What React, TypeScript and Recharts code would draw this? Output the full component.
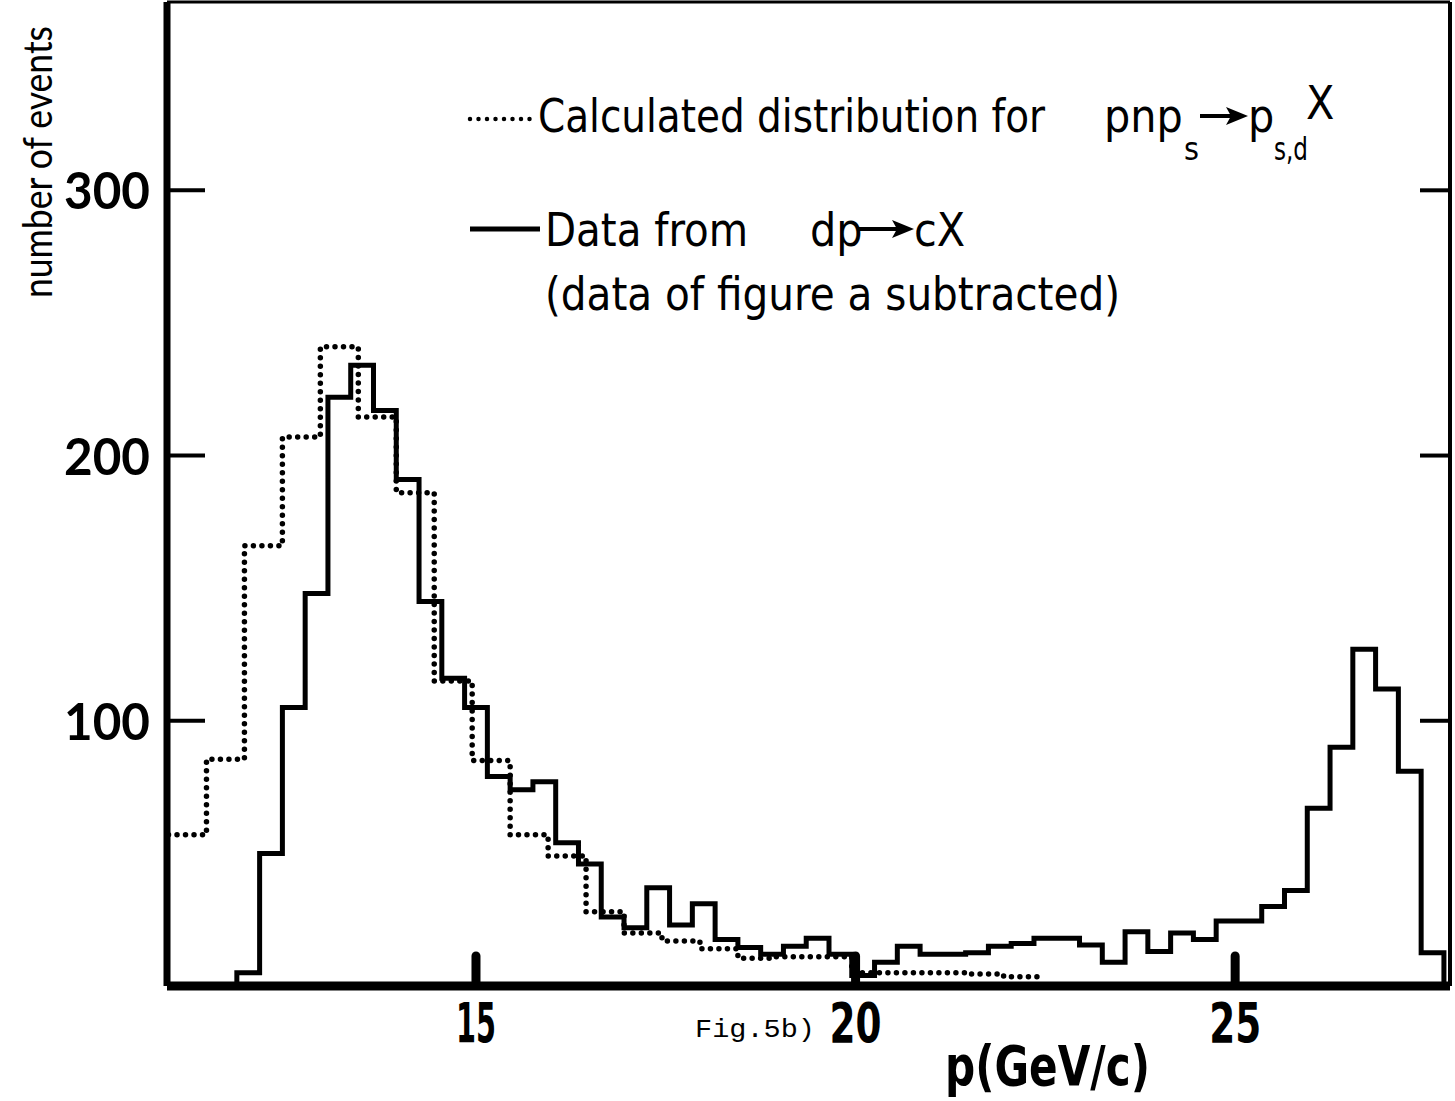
import React from 'react';
import { ComposedChart, Line, XAxis, YAxis } from 'recharts';

// Data from dp -> cX (figure a subtracted), 0.3 GeV/c bins, lower edges
const dataBinLow = [
  11.85, 12.15, 12.45, 12.75, 13.05, 13.35, 13.65, 13.95, 14.25, 14.55,
  14.85, 15.15, 15.45, 15.75, 16.05, 16.35, 16.65, 16.95, 17.25, 17.55,
  17.85, 18.15, 18.45, 18.75, 19.05, 19.35, 19.65, 19.95, 20.25, 20.55,
  20.85, 21.15, 21.45, 21.75, 22.05, 22.35, 22.65, 22.95, 23.25, 23.55,
  23.85, 24.15, 24.45, 24.75, 25.05, 25.35, 25.65, 25.95, 26.25, 26.55,
  26.85, 27.15, 27.45,
];
const dataBinEnd = 27.75;
const dataCounts = [
  5, 50, 105, 148, 222, 234, 217, 191, 145, 116,
  105, 79, 74, 77, 54, 46, 26, 22, 37, 23,
  31, 17.5, 14.5, 12, 15, 18, 12, 4, 9, 15,
  12, 12, 12.5, 15, 16, 18, 18, 15.5, 9, 20.5,
  13, 20, 17.5, 24.5, 24.5, 30, 36, 67, 90, 127,
  112, 81, 12.5,
];

// Calculated distribution for pnp_s -> p_s,d X, 0.5 GeV/c bins
const calcBinLow = [
  10.95, 11.45, 11.95, 12.45, 12.95, 13.45, 13.95, 14.45, 14.95, 15.45,
  15.95, 16.45, 16.95, 17.45, 17.95, 18.45, 18.95, 19.45, 19.95, 20.45,
  20.95, 21.45, 21.95,
];
const calcBinEnd = 22.45;
const calcCounts = [
  57, 85.5, 166, 207, 241, 214.5, 186, 115, 85, 57,
  49, 28, 20, 17, 14, 10.5, 11, 11, 5, 5,
  5, 4.5, 3.5,
];

const xTicks = [15, 20, 25];
const yTicks = [100, 200, 300];

const solidPoints = [
  { p: dataBinLow[0], n: 0 },
  ...dataBinLow.map((p, i) => ({ p, n: dataCounts[i] })),
  { p: dataBinEnd, n: 0 },
];
const dottedPoints = [
  ...calcBinLow.map((p, i) => ({ p, n: calcCounts[i] })),
  { p: calcBinEnd, n: calcCounts[calcCounts.length - 1] },
];

const narrow = '"Liberation Sans Narrow", "DejaVu Sans Condensed", "Roboto Condensed", sans-serif';

function LeftTick(props: any) {
  const { x, y, payload } = props;
  return (
    <g>
      <line x1={x} x2={x + 38} y1={y} y2={y} stroke="#000" strokeWidth={4} />
      <text x={x - 17} y={y + 19} textAnchor="end" fontFamily="Lato, sans-serif" fontWeight={700}
        fontSize={52} textLength={86} lengthAdjust="spacingAndGlyphs" fill="#000">
        {payload.value}
      </text>
    </g>
  );
}

function RightTick(props: any) {
  const { x, y } = props;
  return <line x1={x - 30} x2={x + 1} y1={y} y2={y} stroke="#000" strokeWidth={4} />;
}

function BottomTick(props: any) {
  const { x, y, payload } = props;
  // the "1" is narrow in the original lettering
  const w = String(payload.value).startsWith('1') ? 40 : 52;
  return (
    <g>
      <line x1={x} x2={x} y1={y - 4} y2={y - 30} stroke="#000" strokeWidth={9} strokeLinecap="round" />
      <text x={x} y={1042} textAnchor="middle" fontFamily={narrow} fontWeight={700} fontSize={55}
        textLength={w} lengthAdjust="spacingAndGlyphs" fill="#000">
        {payload.value}
      </text>
    </g>
  );
}

function Arrow({ x1, x2, y }: { x1: number; x2: number; y: number }) {
  return (
    <g>
      <line x1={x1} x2={x2 - 16} y1={y} y2={y} stroke="#000" strokeWidth={4} />
      <path d={`M${x2},${y} L${x2 - 22},${y - 9} L${x2 - 17},${y} L${x2 - 22},${y + 9} Z`} fill="#000" />
    </g>
  );
}

export default function App() {
  return (
    <div style={{ position: 'absolute', left: 0, top: 0, width: 1455, height: 1101, background: '#fff' }}>
      <ComposedChart width={1455} height={1101} margin={{ top: 1, right: 4, bottom: 0, left: 0 }}>
        <XAxis xAxisId="bottom" dataKey="p" type="number" domain={[10.93, 27.83]} allowDataOverflow
          ticks={xTicks} interval={0} tickSize={0} tickMargin={0} tickLine={false} height={115}
          axisLine={{ stroke: '#000', strokeWidth: 9 }} tick={<BottomTick />} />
        <XAxis xAxisId="top" orientation="top" dataKey="p" type="number" domain={[10.93, 27.83]}
          height={1} tick={false} tickLine={false} axisLine={{ stroke: '#000', strokeWidth: 3 }} />
        <YAxis yAxisId="left" type="number" domain={[0, 371]} allowDataOverflow ticks={yTicks} interval={0}
          width={167} tickSize={0} tickMargin={0} tickLine={false}
          axisLine={{ stroke: '#000', strokeWidth: 7 }} tick={<LeftTick />} />
        <YAxis yAxisId="right" orientation="right" type="number" domain={[0, 371]} allowDataOverflow
          ticks={yTicks} interval={0} width={1} tickSize={0} tickMargin={0} tickLine={false}
          axisLine={{ stroke: '#000', strokeWidth: 4 }} tick={<RightTick />} />
        <Line xAxisId="bottom" yAxisId="left" data={dottedPoints} dataKey="n" type="stepAfter"
          stroke="#000" strokeWidth={5.5} strokeDasharray="0 8.5" strokeLinecap="round"
          dot={false} activeDot={false} isAnimationActive={false} />
        <Line xAxisId="bottom" yAxisId="left" data={solidPoints} dataKey="n" type="stepAfter"
          stroke="#000" strokeWidth={5} dot={false} activeDot={false} isAnimationActive={false} />
      </ComposedChart>

      <svg width={1455} height={1101} style={{ position: 'absolute', left: 0, top: 0, pointerEvents: 'none' }}>
        {/* y axis title */}
        <text transform="translate(52,298) rotate(-90)" fontFamily="Lato, sans-serif" fontSize={40}
          textLength={272} lengthAdjust="spacingAndGlyphs" fill="#000">
          number of events
        </text>

        {/* legend */}
        <line x1={470} x2={532} y1={119} y2={119} stroke="#000" strokeWidth={4.5}
          strokeDasharray="0 8.5" strokeLinecap="round" />
        <text x={538} y={132} fontFamily={narrow} fontSize={46} textLength={507} lengthAdjust="spacingAndGlyphs">
          Calculated distribution for
        </text>
        <text x={1104} y={132} fontFamily={narrow} fontSize={46}>pnp</text>
        <text x={1184} y={160} fontFamily={narrow} fontSize={32}>s</text>
        <Arrow x1={1200} x2={1248} y={116} />
        <text x={1248} y={132} fontFamily={narrow} fontSize={46}>p</text>
        <text x={1274} y={160} fontFamily={narrow} fontSize={32} textLength={34} lengthAdjust="spacingAndGlyphs">
          s,d
        </text>
        <text x={1306} y={119} fontFamily={narrow} fontSize={46}>X</text>

        <line x1={470} x2={540} y1={229} y2={229} stroke="#000" strokeWidth={5} />
        <text x={545} y={246} fontFamily={narrow} fontSize={46} textLength={203} lengthAdjust="spacingAndGlyphs">
          Data from
        </text>
        <text x={810} y={246} fontFamily={narrow} fontSize={46}>dp</text>
        <Arrow x1={858} x2={914} y={229} />
        <text x={914} y={246} fontFamily={narrow} fontSize={46}>cX</text>

        <text x={545} y={310} fontFamily={narrow} fontSize={46} textLength={575} lengthAdjust="spacingAndGlyphs">
          (data of figure a subtracted)
        </text>

        {/* axis title and caption */}
        <text x={695} y={1037} fontFamily='"Liberation Mono", "DejaVu Sans Mono", monospace' fontSize={25}
          textLength={120} lengthAdjust="spacingAndGlyphs">
          Fig.5b)
        </text>
        <text x={945} y={1085} fontFamily={narrow} fontWeight={700} fontSize={56} textLength={205}
          lengthAdjust="spacingAndGlyphs">
          p(GeV/c)
        </text>
      </svg>
    </div>
  );
}
